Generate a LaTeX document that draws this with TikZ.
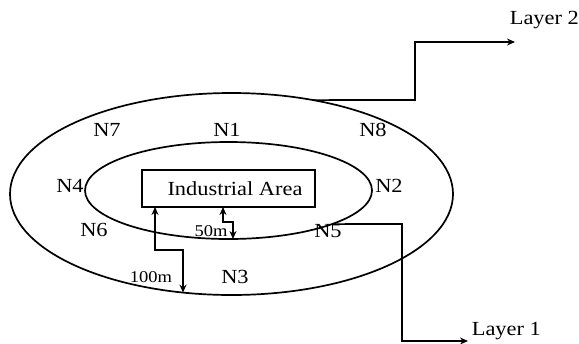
\documentclass[tikz,border=0pt]{standalone}
\usepackage{fontspec}
\setmainfont{Liberation Serif}[FakeStretch=1.12]
\usetikzlibrary{shapes.geometric,arrows.meta}
\begin{document}
\begin{tikzpicture}[x=1bp,y=-1bp,
  line width=1.7bp,
  ring/.style={draw,ellipse,outer sep=0pt,inner sep=0pt},
  lbl/.style={inner sep=0pt,font=\fontsize{20bp}{22bp}\selectfont},
  small/.style={inner sep=0pt,font=\fontsize{16.5bp}{18bp}\selectfont},
  arr/.style={-{Stealth[length=8bp,width=7bp]}},
  darr/.style={{Stealth[length=8bp,width=7bp]}-{Stealth[length=8bp,width=7bp]}}]
\useasboundingbox (0,0) rectangle (579,343);
\node[ring,minimum width=443bp,minimum height=202bp] (outer) at (231.5,194) {};
\node[ring,minimum width=287bp,minimum height=97bp] (inner) at (228.5,190.5) {};
\node[draw,outer sep=0pt,inner sep=0pt,minimum width=173bp,minimum height=37bp,lbl] (area) at (228.5,188.5) {\hspace*{13bp}Industrial Area};
\node[lbl] (n7) at (107,130) {N7};
\node[lbl] (n1) at (227,130) {N1};
\node[lbl] (n8) at (373,130) {N8};
\node[lbl] (n4) at (70,186) {N4};
\node[lbl] (n2) at (389,186) {N2};
\node[lbl] (n6) at (94,230) {N6};
\node[lbl] (n5) at (328,231) {N5};
\node[lbl] (n3) at (235,277) {N3};
\node[small] (d50) at (211,231) {50m};
\node[small] (d100) at (151,277) {100m};
\node[lbl,anchor=west] (l2) at (509,20) {Layer 2};
\node[lbl,anchor=west] (l1) at (471,331) {Layer 1};
\coordinate (l2end) at (515,42);
\coordinate (l1end) at (468,341);
\coordinate (a100top) at (155,207);
\coordinate (a100bot) at (183,292.6);
\coordinate (a50top) at (223,207);
\coordinate (a50bot) at (233,239);
\draw[arr] (outer.49) -- (415,100) |- (l2end);
\draw[arr] (inner.-18.3) -- (402,224) |- (l1end);
\draw[darr] (a100top) -- (155,250) -| (a100bot);
\draw[darr] (a50top) -- (223,222) -| (a50bot);
\end{tikzpicture}
\end{document}
